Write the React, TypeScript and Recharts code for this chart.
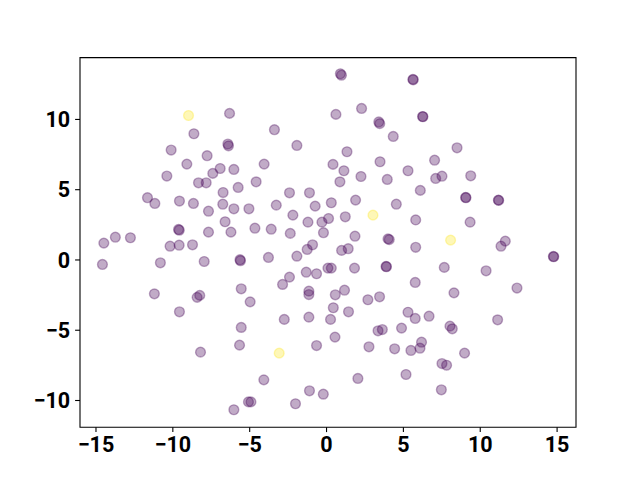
import * as React from "react";
import {
  ScatterChart,
  Scatter,
  XAxis,
  YAxis,
  ReferenceArea,
} from "recharts";

// cluster 0 (dark purple) — pairs that look darker in the picture are two points
const purpleX = [
  -6.31, -8.63, -6.42, -6.38, -10.11, -7.77, -9.09, -6.92, -6.03, -7.4, -10.39,
  -8.33, -7.83, -5.75, -6.73, -11.65, -11.17, -9.57, -8.66, -6.75, -6.03, -5.05,
  -7.68, -6.6, -9.63, -9.58, -7.68, -6.22, -14.49, -13.74, -12.76, -10.18, -9.59,
  -8.72, -14.58, -10.81, -7.96, -5.63, -5.6, -11.2, -8.42, -8.25, -5.55, -4.97,
  -9.57, -5.55, -5.66, -8.2, -5.08, -4.92, -6.03, 0.9, 0.97, 5.62, 5.64, 0.61,
  2.28, 3.4, 3.46, -3.39, 4.34, -1.93, 1.33, -4.06, 0.42, 1.13, 3.48, 5.3, 2.24,
  3.95, 0.87, -4.58, -2.41, -1.11, -3.27, -0.74, 0.31, 1.89, 4.54, -2.19, 1.22,
  0.13, -0.3, -1.21, -4.66, -3.6, -2.36, -0.2, 1.85, 4.0, 4.08, 5.8, -0.91, -1.26,
  0.98, 1.41, -3.78, -1.93, 5.8, 1.82, 0.09, 0.31, 3.87, 3.9, -2.41, -2.86, -1.32,
  -0.65, -1.15, -1.15, 0.57, 1.17, 2.69, 3.45, 0.44, 1.43, -2.75, -1.15, 0.26,
  5.3, 5.77, 3.35, 3.63, 4.88, 0.55, -0.65, 2.76, 4.43, 5.49, -4.08, 2.04, 5.17,
  -1.11, -0.21, -2.02, 11.35, 11.63, 14.76, 14.78, 7.66, 10.38, 5.77, 8.29, 12.39,
  6.67, 11.13, 8.03, 8.18, 6.18, 6.08, 8.98, 7.51, 7.81, 7.47, 6.25, 6.27, 8.49,
  7.03, 7.1, 7.51, 9.38, 6.1, 9.05, 9.07, 11.18, 11.2, 9.34,
];
const purpleY = [
  10.43, 8.98, 8.25, 8.12, 7.82, 7.42, 6.82, 6.51, 6.44, 6.16, 5.97, 5.49, 5.49,
  5.16, 4.8, 4.43, 4.02, 4.19, 4.02, 3.97, 3.64, 3.64, 3.47, 2.72, 2.17, 2.12,
  1.98, 1.98, 1.2, 1.62, 1.58, 0.98, 1.05, 1.08, -0.32, -0.2, -0.11, 0.02, -0.05,
  -2.41, -2.66, -2.52, -2.05, -2.98, -3.69, -4.8, -6.06, -6.56, -10.1, -10.1,
  -10.66, 13.25, 13.15, 12.85, 12.82, 10.36, 10.78, 9.82, 9.7, 9.27, 8.79, 8.15,
  7.7, 6.82, 6.8, 6.35, 6.99, 6.35, 5.94, 5.73, 5.56, 5.56, 4.78, 4.78, 3.9, 3.83,
  4.07, 4.26, 3.97, 3.19, 3.07, 2.95, 2.69, 2.69, 2.26, 2.19, 1.89, 1.94, 1.69,
  1.5, 1.45, 2.85, 1.08, 0.75, 0.68, 0.8, 0.18, 0.27, 0.9, -0.58, -0.58, -0.58,
  -0.46, -0.48, -1.22, -1.74, -0.87, -0.98, -2.22, -2.46, -2.48, -2.15, -2.83,
  -2.62, -3.4, -3.69, -4.23, -4.07, -4.23, -3.72, -4.16, -5.04, -4.95, -4.85,
  -5.49, -6.09, -6.18, -6.32, -6.44, -8.53, -8.43, -8.15, -9.31, -9.55, -10.23,
  0.98, 1.34, 0.25, 0.23, -0.53, -0.77, -1.6, -2.34, -2.0, -4.0, -4.26, -4.71,
  -4.9, -5.85, -6.28, -6.63, -7.37, -7.49, -9.24, 10.21, 10.19, 7.98, 7.1, 5.8,
  5.96, 5.99, 4.95, 4.45, 4.43, 4.26, 4.24, 2.69,
];

// cluster 1 (yellow)
const yellowX = [-8.98, 3.02, 8.07, -3.08];
const yellowY = [10.28, 3.19, 1.41, -6.63];

const xTicks = [-15, -10, -5, 0, 5, 10, 15];
const yTicks = [-10, -5, 0, 5, 10];

const X_DOMAIN = [-16.04, 16.23];
const Y_DOMAIN = [-11.9, 14.4];

const purpleData = purpleX.map((x, i) => ({ x, y: purpleY[i] }));
const yellowData = yellowX.map((x, i) => ({ x, y: yellowY[i] }));

const fmt = (v: number) => (v < 0 ? `\u2212${Math.abs(v)}` : `${v}`);

const TICK_STYLE = {
  fill: "#000",
  fontFamily: "Roboto",
  fontWeight: 700,
  fontSize: 21.5,
};

function dot(color: string) {
  return (props: any) => (
    <circle
      cx={props.cx}
      cy={props.cy}
      r={4.9}
      fill={color}
      fillOpacity={0.33}
      stroke={color}
      strokeOpacity={0.33}
      strokeWidth={1.4}
    />
  );
}

export default function App() {
  return (
    <div style={{ position: "absolute", left: 0, top: 0, background: "#fff" }}>
      <ScatterChart
        width={640}
        height={480}
        margin={{ top: 57.6, right: 64, bottom: 12.8, left: 20 }}
      >
        <XAxis
          type="number"
          dataKey="x"
          domain={X_DOMAIN}
          allowDataOverflow
          ticks={xTicks}
          tickFormatter={fmt}
          axisLine={false}
          tickLine={{ stroke: "#000", strokeWidth: 1.1 }}
          tickSize={4.9}
          tickMargin={5}
          height={40}
          tick={TICK_STYLE}
        />
        <YAxis
          type="number"
          dataKey="y"
          domain={Y_DOMAIN}
          allowDataOverflow
          ticks={yTicks}
          tickFormatter={fmt}
          axisLine={false}
          tickLine={{ stroke: "#000", strokeWidth: 1.1 }}
          tickSize={4.9}
          tickMargin={5}
          width={60}
          tick={TICK_STYLE}
        />
        <Scatter
          data={purpleData}
          shape={dot("#440154")}
          isAnimationActive={false}
        />
        <Scatter
          data={yellowData}
          shape={dot("#fde725")}
          isAnimationActive={false}
        />
        {/* the axes frame: all four spines */}
        <ReferenceArea
          x1={X_DOMAIN[0]}
          x2={X_DOMAIN[1]}
          y1={Y_DOMAIN[0]}
          y2={Y_DOMAIN[1]}
          ifOverflow="visible"
          fill="none"
          fillOpacity={0}
          stroke="#000"
          strokeWidth={1.1}
        />
      </ScatterChart>
    </div>
  );
}
